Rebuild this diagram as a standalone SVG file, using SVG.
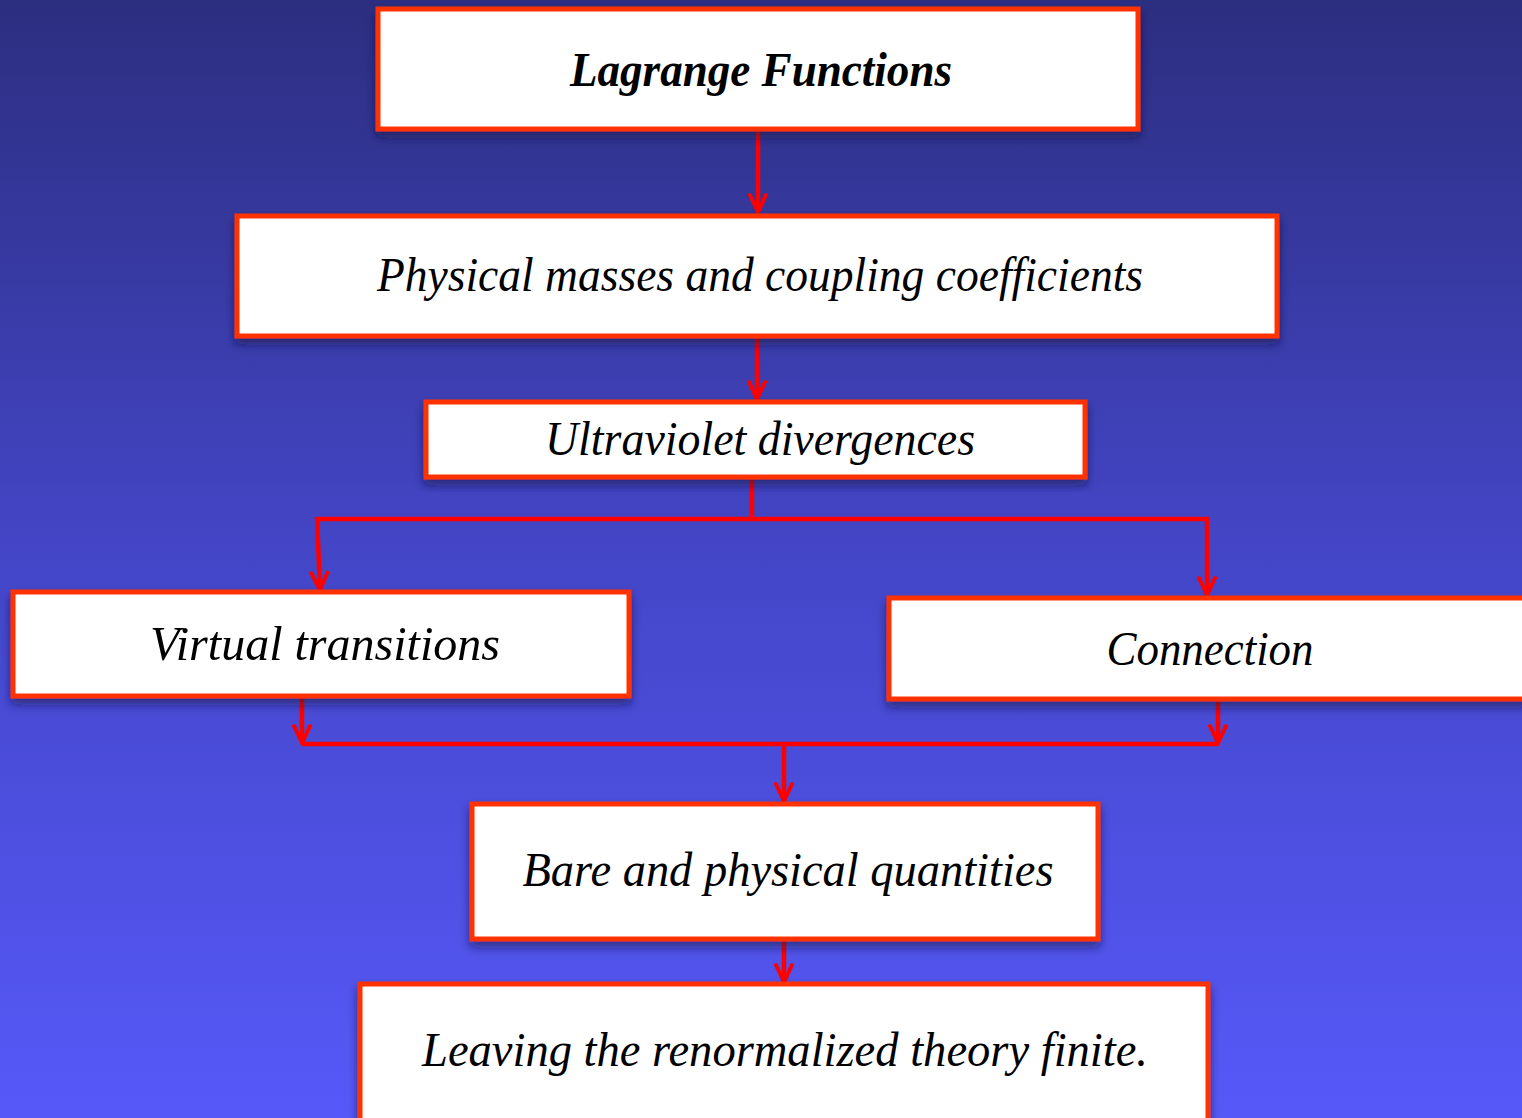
<svg xmlns="http://www.w3.org/2000/svg" width="1522" height="1118" viewBox="0 0 1522 1118">
  <defs>
    <linearGradient id="bg" x1="0" y1="0" x2="0" y2="1">
      <stop offset="0" stop-color="#2c2e80"/>
      <stop offset="0.5" stop-color="#4446c8"/>
      <stop offset="1" stop-color="#5659f8"/>
    </linearGradient>
    <filter id="shadow" x="-5%" y="-10%" width="110%" height="130%">
      <feDropShadow dx="0" dy="6" stdDeviation="5" flood-color="#101040" flood-opacity="0.55"/>
    </filter>
    <!-- open V arrowhead, drawn along +x so orient="auto" follows the line -->
    <marker id="arrow" viewBox="0 0 24 20" refX="21" refY="10" markerWidth="24" markerHeight="20" markerUnits="userSpaceOnUse" orient="auto">
      <path d="M4,2 L21,10 L4,18" fill="none" stroke="#ff0000" stroke-width="4" stroke-linejoin="miter" stroke-linecap="round"/>
    </marker>
    <style>
      .box { fill: #ffffff; stroke: #ff3300; stroke-width: 5; filter: url(#shadow); }
      .lbl { font-family: "Liberation Serif", "DejaVu Serif", serif; font-style: italic; font-size: 48px; fill: #000000; text-anchor: middle; }
      .bold { font-weight: bold; }
      .wire { fill: none; stroke: #ff0000; stroke-width: 4.5; stroke-linecap: butt; }
      .arr { marker-end: url(#arrow); }
    </style>
  </defs>

  <rect x="0" y="0" width="1522" height="1118" fill="url(#bg)"/>

  <!-- connectors -->
  <g id="connectors">
    <path class="wire arr" d="M758,130 L758,212"/>
    <path class="wire arr" d="M757,338 L757,399"/>
    <path class="wire" d="M752,479 L752,519"/>
    <path class="wire" d="M316,519 L1209,519"/>
    <path class="wire arr" d="M317,517 L320,590"/>
    <path class="wire arr" d="M1207,519 L1207,595"/>
    <path class="wire arr" d="M302,698 L302,743"/>
    <path class="wire" d="M302,744 L1219,744"/>
    <path class="wire arr" d="M1218,701 L1218,743"/>
    <path class="wire arr" d="M784,744 L784,801"/>
    <path class="wire arr" d="M784,941 L784,982"/>
  </g>

  <g id="lagrange">
    <rect class="box" x="378" y="9" width="760" height="120"/>
    <text class="lbl bold" x="761" y="86" textLength="382" lengthAdjust="spacingAndGlyphs">Lagrange Functions</text>
  </g>

  <g id="physical">
    <rect class="box" x="237" y="216" width="1040" height="120"/>
    <text class="lbl" x="760" y="291" textLength="766" lengthAdjust="spacingAndGlyphs">Physical masses and coupling coefficients</text>
  </g>

  <g id="ultraviolet">
    <rect class="box" x="426" y="402" width="659" height="75"/>
    <text class="lbl" x="760" y="455" textLength="430" lengthAdjust="spacingAndGlyphs">Ultraviolet divergences</text>
  </g>

  <g id="virtual">
    <rect class="box" x="13" y="592" width="616" height="104"/>
    <text class="lbl" x="325" y="660" textLength="350" lengthAdjust="spacingAndGlyphs">Virtual transitions</text>
  </g>

  <g id="connection">
    <rect class="box" x="889" y="598" width="640" height="101"/>
    <text class="lbl" x="1210" y="665" textLength="207" lengthAdjust="spacingAndGlyphs">Connection</text>
  </g>

  <g id="bare">
    <rect class="box" x="472" y="804" width="626" height="135"/>
    <text class="lbl" x="788" y="886" textLength="531" lengthAdjust="spacingAndGlyphs">Bare and physical quantities</text>
  </g>

  <g id="leaving">
    <rect class="box" x="360" y="984" width="848" height="150"/>
    <text class="lbl" x="785" y="1066" textLength="726" lengthAdjust="spacingAndGlyphs">Leaving the renormalized theory finite.</text>
  </g>
</svg>
